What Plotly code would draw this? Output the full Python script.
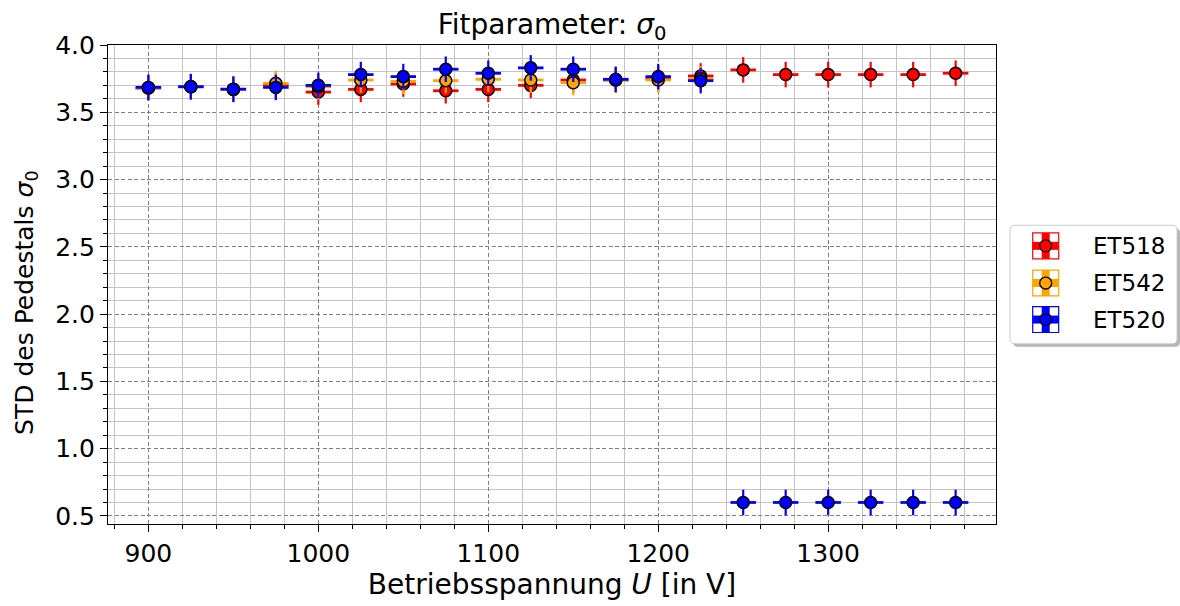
import plotly.graph_objects as go

# ---------------- data ----------------
voltages = [900, 925, 950, 975, 1000, 1025, 1050, 1075, 1100, 1125,
            1150, 1175, 1200, 1225, 1250, 1275, 1300, 1325, 1350, 1375]
et518 = [3.68, 3.69, 3.67, 3.70, 3.65, 3.67, 3.71, 3.66, 3.67, 3.70,
         3.74, 3.74, 3.75, 3.77, 3.815, 3.78, 3.78, 3.78, 3.78, 3.79]
voltages_542 = [900, 925, 950, 975, 1000, 1025, 1050, 1075, 1100, 1125,
                1150, 1175, 1200, 1225]
et542 = [3.68, 3.69, 3.67, 3.715, 3.69, 3.74, 3.73, 3.735, 3.745, 3.74,
         3.72, 3.74, 3.74, 3.75]
et520 = [3.685, 3.69, 3.672, 3.685, 3.70, 3.78, 3.765, 3.82, 3.79, 3.83,
         3.82, 3.745, 3.765, 3.735, 0.60, 0.60, 0.60, 0.60, 0.60, 0.60]
sigma_err = 0.095
u_err = 7.5

series = [("ET518", voltages, et518, "#ff0000"),
          ("ET542", voltages_542, et542, "#ffa500"),
          ("ET520", voltages, et520, "#0000ff")]

FONT = "DejaVu Sans"

fig = go.Figure()
for name, xs, ys, col in series:
    fig.add_trace(go.Scatter(
        x=xs, y=ys, mode="markers", name=name,
        marker=dict(color=col, size=12, line=dict(color="black", width=1.5)),
        error_x=dict(type="constant", value=u_err, color=col, thickness=2.8, width=0),
        error_y=dict(type="constant", value=sigma_err, color=col, thickness=2.2, width=0),
        showlegend=False,
    ))

# plot-area geometry (pixels)
X0, X1, Y0, Y1 = 108, 996, 45, 526
W, H = X1 - X0, Y1 - Y0


def px(x):
    return (x - X0) / W


def py(y):
    return (Y1 - y) / H


def rounded(x0, y0, x1, y1, r):
    rx, ry = r / W, r / H
    a, b, c, d = px(x0), py(y1), px(x1), py(y0)  # left, bottom, right, top
    return (f"M {a+rx},{b} L {c-rx},{b} Q {c},{b} {c},{b+ry} L {c},{d-ry} "
            f"Q {c},{d} {c-rx},{d} L {a+rx},{d} Q {a},{d} {a},{d-ry} "
            f"L {a},{b+ry} Q {a},{b} {a+rx},{b} Z")


shapes = []
annotations = []
# legend shadow + box
shapes.append(dict(type="path", xref="paper", yref="paper",
                   path=rounded(1013, 229, 1180, 348, 5),
                   fillcolor="rgba(120,120,120,0.55)", line=dict(width=0)))
shapes.append(dict(type="path", xref="paper", yref="paper",
                   path=rounded(1010, 226, 1177, 345, 5),
                   fillcolor="white", line=dict(color="#cccccc", width=1)))
centers = [246.7, 284.0, 320.7]
hx = 1045.7
for (name, _, _, col), cy in zip(series, centers):
    s, t, r = 13, 4, 6
    shapes.append(dict(type="rect", xref="paper", yref="paper",
                       x0=px(hx - s), x1=px(hx + s), y0=py(cy + s), y1=py(cy - s),
                       fillcolor="white", line=dict(color=col, width=1.2)))
    shapes.append(dict(type="rect", xref="paper", yref="paper",
                       x0=px(hx - s), x1=px(hx + s), y0=py(cy + t), y1=py(cy - t),
                       fillcolor=col, line=dict(width=0)))
    shapes.append(dict(type="rect", xref="paper", yref="paper",
                       x0=px(hx - t), x1=px(hx + t), y0=py(cy + s), y1=py(cy - s),
                       fillcolor=col, line=dict(width=0)))
    shapes.append(dict(type="circle", xref="paper", yref="paper",
                       x0=px(hx - r), x1=px(hx + r), y0=py(cy + r), y1=py(cy - r),
                       fillcolor=col, line=dict(color="black", width=1.3)))
    annotations.append(dict(text=name, xref="paper", yref="paper",
                            x=px(1091), y=py(cy), xanchor="left", yanchor="middle",
                            showarrow=False, font=dict(family=FONT, size=23, color="black")))

# y-axis label (placed as in the reference)
annotations.append(dict(text="STD des Pedestals <i>σ</i><sub>0</sub>", textangle=-90,
                        xref="paper", yref="paper", x=px(26), y=py(304),
                        xanchor="center", yanchor="middle", showarrow=False,
                        font=dict(family=FONT, size=25, color="black")))

axis_common = dict(
    ticks="outside", ticklen=7, tickwidth=1.2, tickcolor="black",
    showline=True, linecolor="black", linewidth=1.2, mirror=True,
    showgrid=True, gridcolor="#808080", gridwidth=1, griddash="4px,2.5px",
    zeroline=False, tickfont=dict(family=FONT, size=25, color="black"),
)
minor_common = dict(ticks="outside", ticklen=4, tickwidth=1, tickcolor="black",
                    showgrid=True, gridcolor="#c4c4c4", gridwidth=1.1, griddash="solid")

fig.update_layout(
    width=1180, height=606,
    margin=dict(l=X0, r=1180 - X1, t=Y0, b=606 - Y1),
    plot_bgcolor="white", paper_bgcolor="white",
    font=dict(family=FONT, color="black"),
    showlegend=False,
    title=dict(text="Fitparameter: <i>σ</i><sub>0</sub>", x=0.5, xref="paper",
               xanchor="center", y=1 - 34 / 606, yref="container", yanchor="bottom",
               font=dict(family=FONT, size=28, color="black")),
    xaxis=dict(range=[876.25, 1398.75], dtick=100, tick0=0,
               minor=dict(dtick=20, **minor_common),
               title=dict(text="Betriebsspannung <i>U</i> [in V]", standoff=6,
                          font=dict(family=FONT, size=28, color="black")),
               **axis_common),
    yaxis=dict(range=[0.44, 4.0], dtick=0.5, tick0=0, tickformat=".1f",
               minor=dict(dtick=0.1, **minor_common),
               **axis_common),
    shapes=shapes,
    annotations=annotations,
)

fig.write_html("out.html")
